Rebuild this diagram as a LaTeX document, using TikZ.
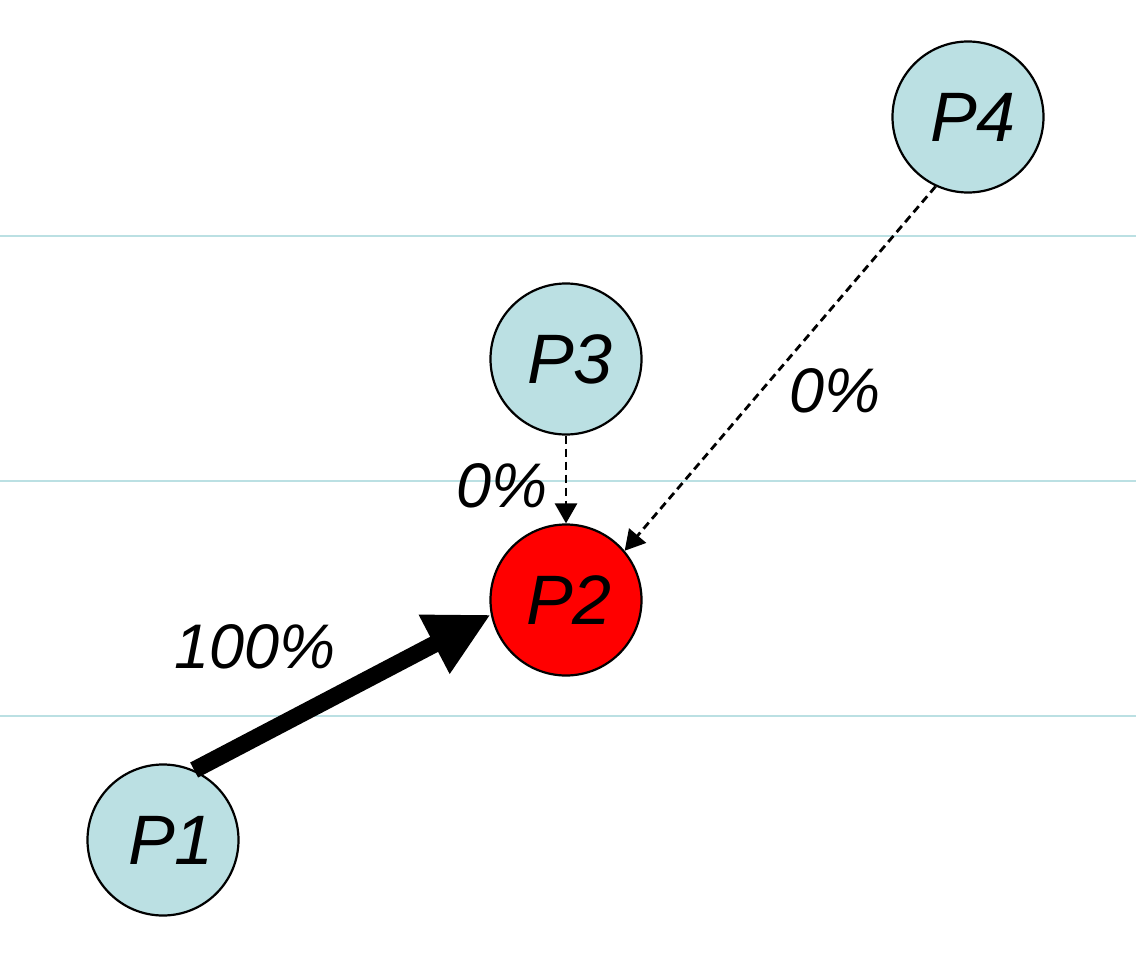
\documentclass[tikz,border=0pt]{standalone}
\usepackage{fontspec}
\setmainfont{Liberation Sans}
\usetikzlibrary{arrows.meta}
\definecolor{nodefill}{HTML}{BBE0E3}
\definecolor{gridline}{HTML}{BBE0E3}
\begin{document}
\begin{tikzpicture}[x=1pt,y=-1pt,
  pnode/.style={circle,draw=black,line width=2.2pt,fill=nodefill,minimum size=151pt,inner sep=0pt,font=\fontsize{70}{80}\selectfont\itshape},
  plabel/.style={inner sep=0pt,font=\fontsize{63}{72}\selectfont\itshape},
  dasharrow/.style={line width=2.8pt,dash pattern=on 8pt off 5pt,-{Triangle[length=20pt,width=22pt]}},
  thickarrow/.style={line width=17pt,-{Triangle[length=64pt,width=62pt]}},
  hline/.style={draw=gridline,line width=2pt}]
\useasboundingbox (0,0) rectangle (1136,955);
\fill[white] (0,0) rectangle (1136,955);
\draw[hline] (0,236) -- (1136,236);
\draw[hline] (0,481) -- (1136,481);
\draw[hline] (0,716) -- (1136,716);
\node[pnode] (P4) at (968,117) {\hspace{10pt}P4};
\node[pnode] (P3) at (566,359) {\hspace{8pt}P3};
\node[pnode,fill=red] (P2) at (566,600) {\hspace{6pt}P2};
\node[pnode] (P1) at (163,840) {\hspace{16pt}P1};
\draw[thickarrow] (P1.66) -- (P2.191);
\draw[dasharrow] (P3.south) -- (P2.north);
\draw[dasharrow] (P4.245) -- (P2.40);
\node[plabel] (l1) at (255,647) {100\%};
\node[plabel] (l2) at (502,486) {0\%};
\node[plabel] (l3) at (835,391) {0\%};
\end{tikzpicture}
\end{document}
